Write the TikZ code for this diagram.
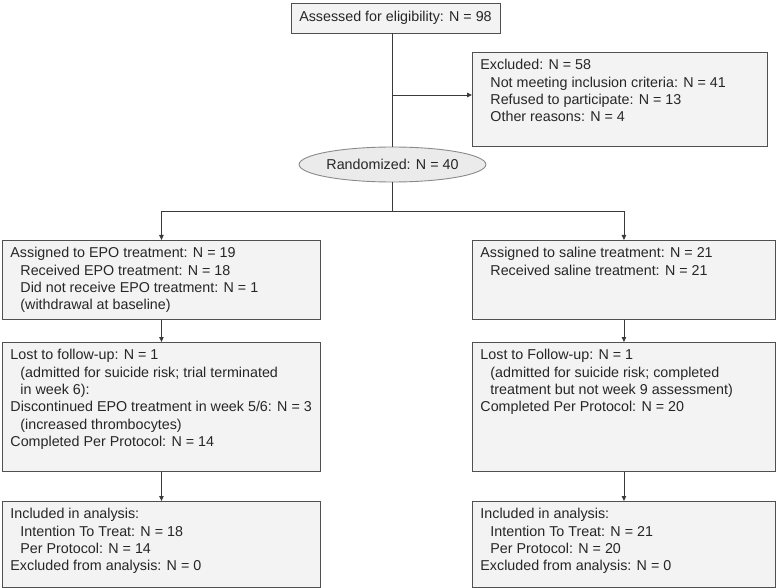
\documentclass[tikz,border=0pt]{standalone}
\usepackage{fontspec}
\setmainfont{Liberation Sans}
\usetikzlibrary{arrows.meta,shapes.geometric}
\definecolor{boxfill}{HTML}{F3F3F3}
\definecolor{ellfill}{HTML}{EBEBEB}
\definecolor{boxline}{HTML}{505050}
\definecolor{ellline}{HTML}{8A8A8A}
\definecolor{conn}{HTML}{3A3A3A}
\newcommand{\boxtxt}[3]{\parbox[t][#2][t]{#1}{\raggedright #3}}
\newcommand{\ind}{\hspace*{10pt}}
\begin{document}
\begin{tikzpicture}[x=1pt,y=-1pt,
  every node/.style={font=\fontsize{14.3}{17.3}\selectfont, text=black!85},
  bx/.style={draw=boxline, line width=0.9pt, fill=boxfill, inner xsep=8pt, inner ysep=7pt, anchor=north west},
  topbx/.style={draw=boxline, line width=0.9pt, fill=boxfill, minimum width=209pt, minimum height=30pt, inner sep=0pt},
  ellbx/.style={ellipse, draw=ellline, line width=0.9pt, fill=ellfill, minimum width=175pt, minimum height=35pt, inner sep=0pt},
  ln/.style={draw=conn, line width=0.9pt},
  arr/.style={ln, -{Triangle[length=5pt,width=4.5pt]}}
]
\useasboundingbox (0,0) rectangle (777,588);

\node[topbx] (top) at (395.5,18) {Assessed for eligibility: N = 98};
\node[bx] (excl) at (472,52) {\boxtxt{279pt}{80pt}{Excluded: N = 58\\
\ind Not meeting inclusion criteria: N = 41\\
\ind Refused to participate: N = 13\\
\ind Other reasons: N = 4}};
\node[ellbx] (ell) at (392.5,164.5) {Randomized: N = 40};

\node[bx] (e1) at (2,240) {\boxtxt{302pt}{65pt}{Assigned to EPO treatment: N = 19\\
\ind Received EPO treatment: N = 18\\
\ind Did not receive EPO treatment: N = 1\\
\ind (withdrawal at baseline)}};
\node[bx] (e2) at (2,342) {\boxtxt{302pt}{115pt}{Lost to follow-up: N = 1\\
\ind (admitted for suicide risk; trial terminated\\
\ind in week 6):\\
Discontinued EPO treatment in week 5/6: N = 3\\
\ind (increased thrombocytes)\\
Completed Per Protocol: N = 14}};
\node[bx] (e3) at (2,501) {\boxtxt{302pt}{72pt}{Included in analysis:\\
\ind Intention To Treat: N = 18\\
\ind Per Protocol: N = 14\\
Excluded from analysis: N = 0}};

\node[bx] (s1) at (472,240) {\boxtxt{287pt}{65pt}{Assigned to saline treatment: N = 21\\
\ind Received saline treatment: N = 21}};
\node[bx] (s2) at (472,342) {\boxtxt{287pt}{115pt}{Lost to Follow-up: N = 1\\
\ind (admitted for suicide risk; completed\\
\ind treatment but not week 9 assessment)\\
Completed Per Protocol: N = 20}};
\node[bx] (s3) at (472,501) {\boxtxt{287pt}{72pt}{Included in analysis:\\
\ind Intention To Treat: N = 21\\
\ind Per Protocol: N = 20\\
Excluded from analysis: N = 0}};

\coordinate (br) at (ell.north |- 0,95);
\coordinate (sp) at (ell.south |- 0,211);
\draw[ln] (ell.north |- top.south) -- (ell.north);
\draw[arr] (br) -- (excl.west |- br);
\draw[ln] (ell.south) -- (sp);
\draw[ln] (e1.north |- sp) -- (s1.north |- sp);
\draw[arr] (e1.north |- sp) -- (e1.north);
\draw[arr] (s1.north |- sp) -- (s1.north);
\draw[arr] (e1.south) -- (e2.north);
\draw[arr] (e2.south) -- (e3.north);
\draw[arr] (s1.south) -- (s2.north);
\draw[arr] (s2.south) -- (s3.north);
\end{tikzpicture}
\end{document}
